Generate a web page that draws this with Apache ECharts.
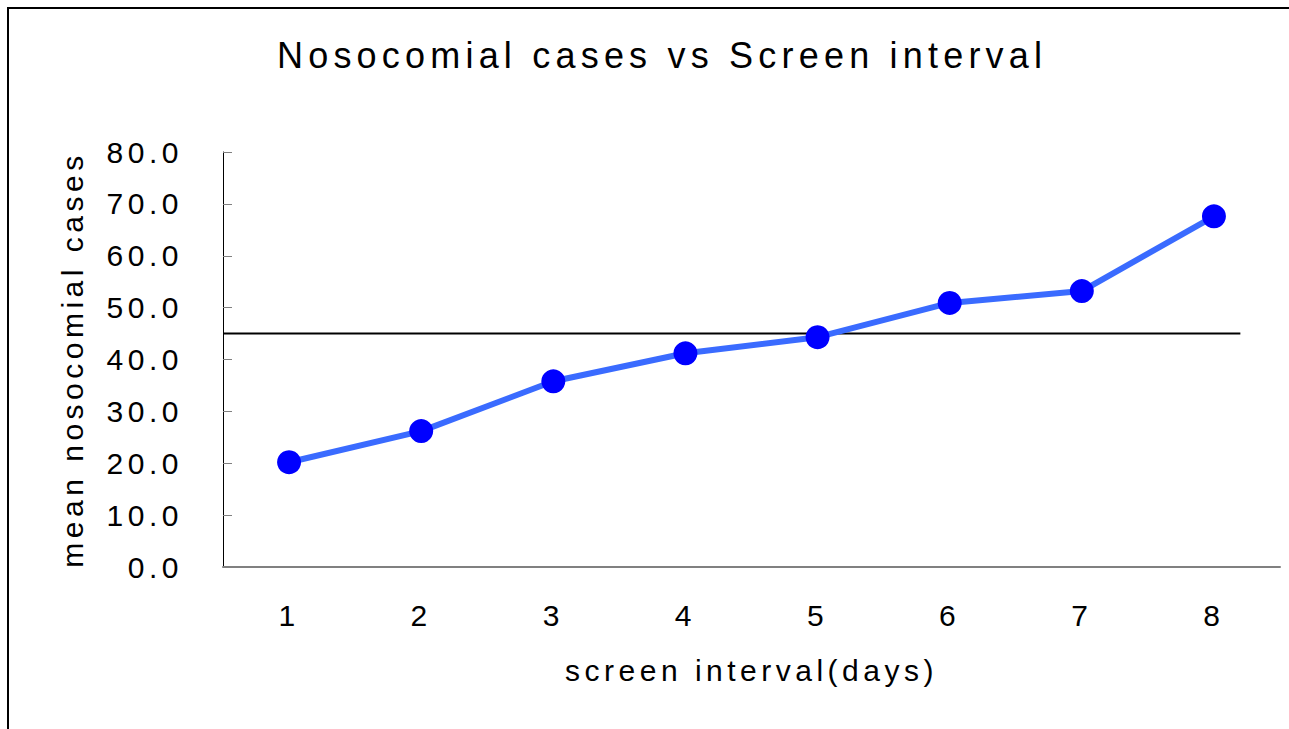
<!DOCTYPE html>
<html>
<head>
<meta charset="utf-8">
<script src="https://cdn.jsdelivr.net/npm/echarts@6/dist/echarts.min.js"></script>
<style>
  html, body { margin: 0; padding: 0; background: #fff; }
  #chart { width: 1289px; height: 729px; letter-spacing: 4.5px; }
  /* title has slightly wider tracking than the axis texts */
  #chart text[style*="36px"] { letter-spacing: 5.2px; }
</style>
</head>
<body>
<div id="chart"></div>
<script>
const categories = ["1", "2", "3", "4", "5", "6", "7", "8"];
const meanCases = [20.2, 26.2, 35.8, 41.2, 44.3, 50.9, 53.2, 67.6];
// reference level drawn across the plot (x in category widths from the left edge)
const refX = [0, 7.7];
const refY = 45;

const FONT = "'Liberation Sans', Arial, sans-serif";

const chart = echarts.init(document.getElementById("chart"), null, { renderer: "svg" });

chart.setOption({
  animation: false,
  title: {
    text: "Nosocomial cases vs Screen interval",
    left: 272,
    top: 32,
    textStyle: {
      fontFamily: FONT,
      fontSize: 36,
      fontWeight: "normal",
      color: "#000",
    },
  },
  graphic: [
    {
      type: "rect",
      shape: { x: 8, y: 8, width: 1400, height: 900 },
      style: { fill: "none", stroke: "#000", lineWidth: 2 },
      silent: true,
    },
  ],
  grid: {
    left: 223,
    right: 9,
    top: 152,
    bottom: 162,
  },
  xAxis: [
    {
      type: "category",
      data: categories,
      boundaryGap: true,
      name: "screen interval(days)",
      nameLocation: "middle",
      nameGap: 88,
      nameTextStyle: { fontFamily: FONT, fontSize: 30, color: "#000" },
      axisLine: { lineStyle: { color: "#808080", width: 2 } },
      axisTick: { inside: true, length: 9, lineStyle: { color: "#000", width: 1 } },
      axisLabel: { margin: 33, fontFamily: FONT, fontSize: 30, color: "#000" },
      splitLine: { show: false },
    },
    {
      type: "value",
      min: 0,
      max: 8,
      show: false,
    },
  ],
  yAxis: {
    type: "value",
    min: 0,
    max: 80,
    interval: 10,
    name: "mean nosocomial cases",
    nameLocation: "middle",
    nameGap: 136,
    nameTextStyle: { fontFamily: FONT, fontSize: 30, color: "#000" },
    axisLine: { show: true, lineStyle: { color: "#000", width: 1 } },
    axisTick: { show: true, inside: true, length: 9, lineStyle: { color: "#808080", width: 1 } },
    axisLabel: {
      margin: 40,
      fontFamily: FONT,
      fontSize: 30,
      color: "#000",
      formatter: (v) => v.toFixed(1),
    },
    splitLine: { show: false },
  },
  series: [
    {
      type: "line",
      xAxisIndex: 1,
      data: refX.map((x) => [x, refY]),
      symbol: "none",
      lineStyle: { color: "#000", width: 2 },
      silent: true,
    },
    {
      type: "line",
      name: "mean nosocomial cases",
      data: meanCases,
      symbol: "circle",
      symbolSize: 24,
      lineStyle: { color: "#3a6bff", width: 6 },
      itemStyle: { color: "#0000ff" },
      emphasis: { disabled: true },
    },
  ],
});
</script>
</body>
</html>
